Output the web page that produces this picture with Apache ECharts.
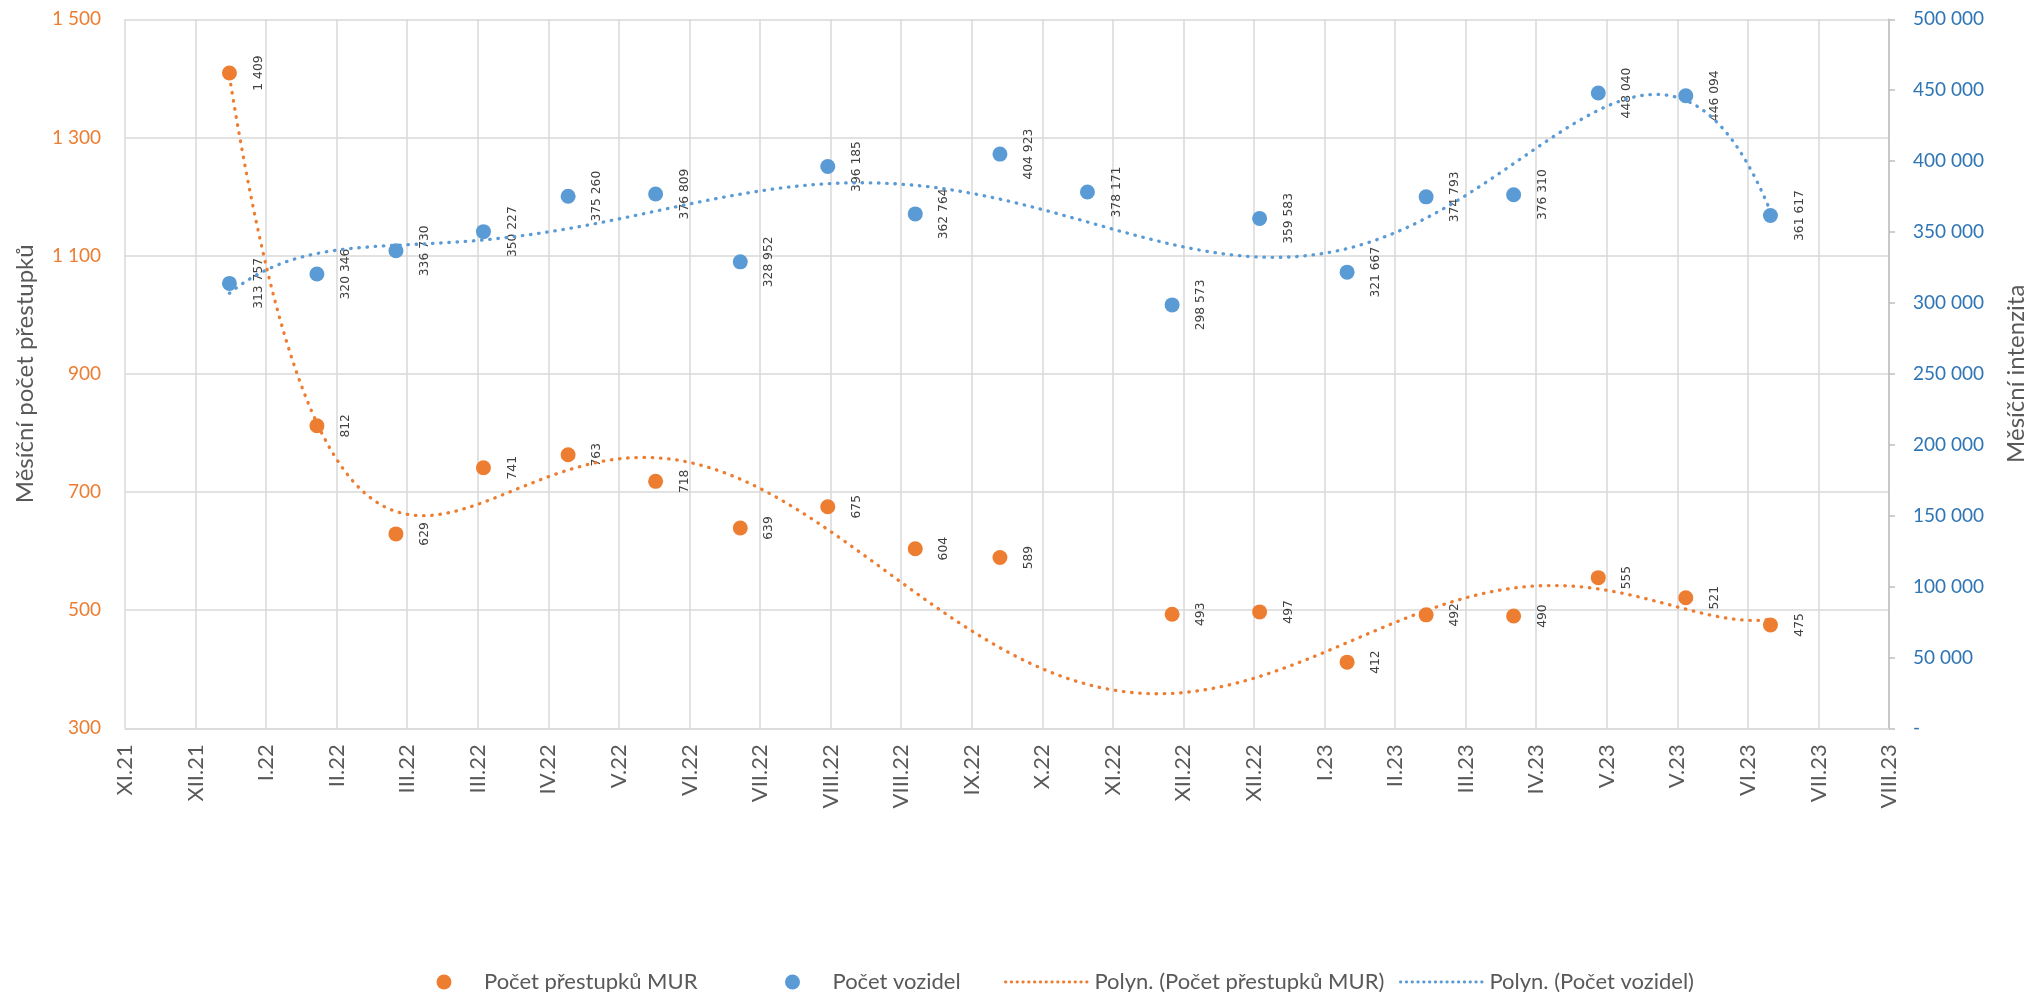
<!DOCTYPE html>
<html>
<head>
<meta charset="utf-8">
<script src="https://cdn.jsdelivr.net/npm/echarts@6/dist/echarts.min.js"></script>
<style>
html,body{margin:0;padding:0;background:#fff;overflow:hidden;width:2031px;height:992px;}
#chart{width:2031px;height:992px;overflow:hidden;}
</style>
</head>
<body>
<div id="chart"></div>
<script>
// ---- data ----
const months = ['2022-01','2022-02','2022-03','2022-04','2022-05','2022-06','2022-07','2022-08','2022-09','2022-10','2022-11','2022-12','2023-01','2023-02','2023-03','2023-04','2023-05','2023-06','2023-07'];
// Nov 2022 offences: 0 (below the axis minimum, so its marker is clipped; it still pulls the trendline down)
const offenses = [1409, 812, 629, 741, 763, 718, 639, 675, 604, 589, 0, 493, 497, 412, 492, 490, 555, 521, 475];
const vehicles = [313757, 320346, 336730, 350227, 375260, 376809, 328952, 396185, 362764, 404923, 378171, 298573, 359583, 321667, 374793, 376310, 448040, 446094, 361617];
const xTickLabels = ['XI.21','XII.21','I.22','II.22','III.22','III.22','IV.22','V.22','VI.22','VII.22','VIII.22','VIII.22','IX.22','X.22','XI.22','XII.22','XII.22','I.23','II.23','III.23','IV.23','V.23','V.23','VI.23','VII.23','VIII.23'];
const axisStartDate = '2021-11-25';   // first date tick of the Excel date axis
const tickStepDays = 25;              // date axis major unit (days)
const trendOrder = 6;                 // polynomial trendline order

const seriesNames = ['Počet přestupků MUR', 'Počet vozidel', 'Polyn. (Počet přestupků MUR)', 'Polyn. (Počet vozidel)'];

// ---- helpers ----
function dayIndex(str){
  const p = str.split('-').map(Number);
  return Date.UTC(p[0], p[1]-1, p[2] || 1) / 86400000;
}
const origin = dayIndex(axisStartDate);
const xs = months.map(m => dayIndex(m) - origin);

function fmt(v){ return String(Math.round(v)).replace(/\B(?=(\d{3})+(?!\d))/g, ' '); }

function polyfit(px, py, order){
  const n = px.length;
  const mn = Math.min(...px), mx = Math.max(...px);
  const c = (mn+mx)/2, s = (mx-mn)/2;
  const m = order+1;
  const A = Array.from({length:m}, () => new Array(m+1).fill(0));
  for (let k=0;k<n;k++){
    const t = (px[k]-c)/s;
    const pw = [1];
    for (let i=1;i<2*m;i++) pw.push(pw[i-1]*t);
    for (let i=0;i<m;i++){
      for (let j=0;j<m;j++) A[i][j] += pw[i+j];
      A[i][m] += py[k]*pw[i];
    }
  }
  for (let i=0;i<m;i++){
    let piv = i;
    for (let r=i+1;r<m;r++) if (Math.abs(A[r][i])>Math.abs(A[piv][i])) piv=r;
    [A[i],A[piv]] = [A[piv],A[i]];
    for (let r=0;r<m;r++){
      if (r===i) continue;
      const f = A[r][i]/A[i][i];
      for (let cc=i;cc<=m;cc++) A[r][cc] -= f*A[i][cc];
    }
  }
  const coef = A.map((row,i)=>row[m]/row[i]);
  return function(x){
    const t = (x-c)/s; let v=0, p=1;
    for (let i=0;i<m;i++){ v += coef[i]*p; p*=t; }
    return v;
  };
}

function trend(vals){
  const px=[], py=[];
  vals.forEach((v,i)=>{ if (v!=null){ px.push(xs[i]); py.push(v); } });
  const f = polyfit(px, py, trendOrder);
  const a = Math.min(...px), b = Math.max(...px);
  const out = [];
  const N = 400;
  for (let i=0;i<=N;i++){ const x = a + (b-a)*i/N; out.push([x, f(x)]); }
  return out;
}

const orangeData = offenses.map((v,i)=>[xs[i], v]);
const blueData = vehicles.map((v,i)=>[xs[i], v]);

const FONT = "Lato, 'Open Sans', sans-serif";
const ORANGE = '#ED7D31', BLUE = '#5B9BD5';
const GRID = '#D9D9D9';

const dataLabel = {
  show: true,
  position: 'inside',
  rotate: 90,
  offset: [0, 29],
  color: '#404040',
  fontFamily: "'DejaVu Sans', sans-serif",
  fontSize: 12.3,
  formatter: p => fmt(p.value[1])
};

const legendBase = {
  top: 966, itemHeight: 15, itemGap: 0,
  textStyle: {color:'#595959', fontFamily: FONT, fontSize: 22},
  selectedMode: false
};
const legendLine = {type: [0.5, 5.3], width: 2.8, cap: 'round'};

const chart = echarts.init(document.getElementById('chart'), null, {renderer:'canvas', width: 2031, height: 992});
chart.setOption({
  backgroundColor: '#fff',
  animation: false,
  grid: {left: 125, right: 142, top: 19.3, bottom: 263.7, containLabel: false, outerBoundsMode: 'none'},
  xAxis: {
    type: 'value', min: 0, max: tickStepDays*(xTickLabels.length-1), interval: tickStepDays,
    axisLine: {show: true, lineStyle: {color: GRID, width: 1.5}},
    axisTick: {show: false},
    splitLine: {show: true, lineStyle: {color: GRID, width: 1.5}},
    axisLabel: {
      rotate: 90, margin: 16, color: '#595959', fontFamily: FONT, fontSize: 22,
      formatter: v => xTickLabels[Math.round(v/tickStepDays)] || ''
    }
  },
  yAxis: [{
    type: 'value', min: 300, max: 1500, interval: 200,
    name: 'Měsíční počet přestupků', nameLocation: 'middle', nameRotate: 90, nameGap: 88,
    nameTextStyle: {color:'#595959', fontFamily: FONT, fontSize: 24},
    axisLine: {show: false}, axisTick: {show: false},
    splitLine: {show: true, lineStyle: {color: GRID, width: 1.5}},
    axisLabel: {margin: 24, color: ORANGE, fontFamily: FONT, fontSize: 19, formatter: v => fmt(v)}
  },{
    type: 'value', min: 0, max: 500000, interval: 50000, position: 'right',
    name: 'Měsíční intenzita', nameLocation: 'middle', nameRotate: 90, nameGap: 115,
    nameTextStyle: {color:'#595959', fontFamily: FONT, fontSize: 24},
    axisLine: {show: true, lineStyle: {color: '#BFBFBF', width: 1.5}},
    axisTick: {show: true, length: 6, lineStyle: {color: '#BFBFBF', width: 1.5}},
    splitLine: {show: false},
    axisLabel: {margin: 24, color: '#2E75B6', fontFamily: FONT, fontSize: 19, formatter: v => v === 0 ? '-' : fmt(v)}
  }],
  legend: [
    Object.assign({}, legendBase, {left: 431.5, itemWidth: 70, data: [{name: seriesNames[0], icon: 'circle', itemStyle: {opacity: 1}}]}),
    Object.assign({}, legendBase, {left: 780, itemWidth: 70, data: [{name: seriesNames[1], icon: 'circle', itemStyle: {opacity: 1}}]}),
    Object.assign({}, legendBase, {left: 999, itemWidth: 84, data: [{name: seriesNames[2], lineStyle: legendLine, itemStyle: {opacity: 0}}]}),
    Object.assign({}, legendBase, {left: 1394, itemWidth: 84, data: [{name: seriesNames[3], lineStyle: legendLine, itemStyle: {opacity: 0}}]})
  ],
  series: [{
    name: seriesNames[0], type: 'scatter', yAxisIndex: 0, z: 2, clip: true,
    symbol: 'circle', symbolSize: 15, itemStyle: {color: ORANGE, opacity: 1},
    label: dataLabel, data: orangeData
  },{
    name: seriesNames[1], type: 'scatter', yAxisIndex: 1, z: 2, clip: true,
    symbol: 'circle', symbolSize: 15, itemStyle: {color: BLUE, opacity: 1},
    label: dataLabel, data: blueData
  },{
    name: seriesNames[2], type: 'line', yAxisIndex: 0, z: 5, silent: true,
    symbol: 'none', showSymbol: false, smooth: false, itemStyle: {color: ORANGE},
    lineStyle: {color: ORANGE, width: 3.3, type: [0.5, 7.7], cap: 'round'},
    data: trend(offenses)
  },{
    name: seriesNames[3], type: 'line', yAxisIndex: 1, z: 5, silent: true,
    symbol: 'none', showSymbol: false, smooth: false, itemStyle: {color: BLUE},
    lineStyle: {color: BLUE, width: 3.3, type: [0.5, 7.7], cap: 'round'},
    data: trend(vehicles)
  }]
});
</script>
</body>
</html>
